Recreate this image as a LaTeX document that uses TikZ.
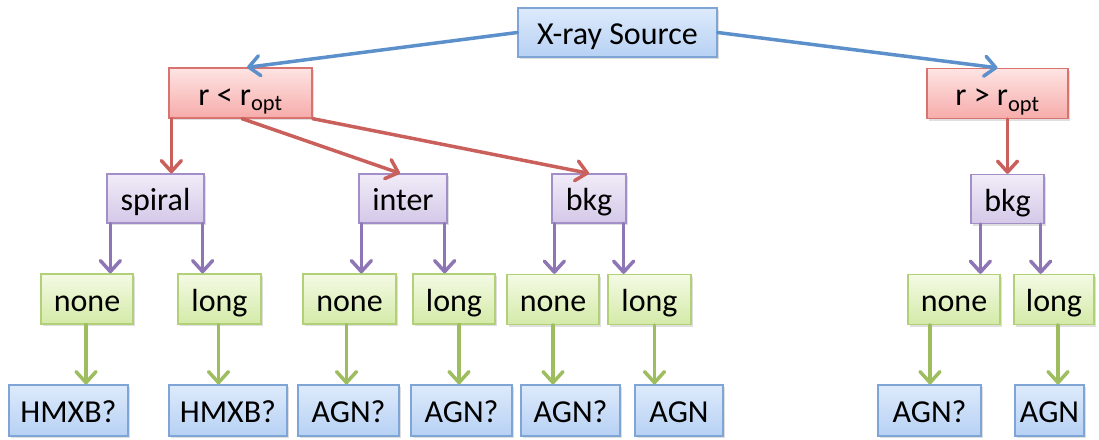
\documentclass[tikz,border=0pt]{standalone}
\usepackage{fontspec}
\setmainfont{Carlito}
\usetikzlibrary{arrows.meta,shadows}

\definecolor{bluefillA}{HTML}{DDEAFB}
\definecolor{bluefillB}{HTML}{B7D1F4}
\definecolor{blueline}{HTML}{7EA5D6}
\definecolor{bluearrow}{HTML}{5C90CB}
\definecolor{redfillA}{HTML}{FDE4E3}
\definecolor{redfillB}{HTML}{F6ACAA}
\definecolor{redline}{HTML}{D8736F}
\definecolor{redarrow}{HTML}{CA605C}
\definecolor{purpfillA}{HTML}{F1ECF8}
\definecolor{purpfillB}{HTML}{D4C8E8}
\definecolor{purpline}{HTML}{A28FC8}
\definecolor{purparrow}{HTML}{8E76B6}
\definecolor{greenfillA}{HTML}{F4FAE4}
\definecolor{greenfillB}{HTML}{D4EAA8}
\definecolor{greenline}{HTML}{B2D078}
\definecolor{greenarrow}{HTML}{9DBD5E}

\tikzset{
  box/.style={rectangle, line width=1.3pt, inner sep=0pt,
    font=\fontsize{32}{36}\selectfont, text height=24pt, text depth=0pt,
    drop shadow={opacity=0.25, shadow xshift=1.5pt, shadow yshift=-2pt}},
  bluebox/.style={box, draw=blueline, top color=bluefillA, bottom color=bluefillB},
  redbox/.style={box, draw=redline, top color=redfillA, bottom color=redfillB},
  purpbox/.style={box, draw=purpline, top color=purpfillA, bottom color=purpfillB},
  greenbox/.style={box, draw=greenline, top color=greenfillA, bottom color=greenfillB},
  conn/.style={line width=3.5pt, line cap=round, line join=round,
    -{Straight Barb[length=11pt, width=20pt, line cap=round, line join=round]}},
  bluearr/.style={conn, draw=bluearrow},
  redarr/.style={conn, draw=redarrow},
  purparr/.style={conn, draw=purparrow},
  greenarr/.style={conn, draw=greenarrow},
}

\begin{document}
\begin{tikzpicture}[x=1pt, y=-1pt]
\useasboundingbox (0,0) rectangle (1099,439);

% root
\node[bluebox, minimum width=199pt, minimum height=49pt] (src) at (617.5,32.5) {X-ray Source};

% radius split
\node[redbox, minimum width=143pt, minimum height=50pt] (rl) at (240.5,93) {r < r\textsubscript{opt}};
\node[redbox, minimum width=141pt, minimum height=50pt] (rg) at (997.5,93.5) {r > r\textsubscript{opt}};

% morphology
\node[purpbox, minimum width=97pt, minimum height=49pt] (spiral) at (155.5,198.5) {spiral};
\node[purpbox, minimum width=88pt, minimum height=49pt] (inter) at (403,198.5) {inter};
\node[purpbox, minimum width=74pt, minimum height=49pt] (bkgA) at (589,198.5) {bkg};
\node[purpbox, minimum width=73pt, minimum height=49pt] (bkgB) at (1007.5,199) {bkg};

% counterpart
\node[greenbox, minimum width=92pt, minimum height=50pt] (nA) at (87,299) {none};
\node[greenbox, minimum width=83pt, minimum height=50pt] (lA) at (219.5,299) {long};
\node[greenbox, minimum width=93pt, minimum height=50pt] (nB) at (349.5,299) {none};
\node[greenbox, minimum width=82pt, minimum height=50pt] (lB) at (454,299) {long};
\node[greenbox, minimum width=92pt, minimum height=50pt] (nC) at (553,299.5) {none};
\node[greenbox, minimum width=83pt, minimum height=50pt] (lC) at (649.5,299.5) {long};
\node[greenbox, minimum width=92pt, minimum height=50pt] (nD) at (954,299.5) {none};
\node[greenbox, minimum width=80pt, minimum height=50pt] (lD) at (1054,299.5) {long};

% classification
\node[bluebox, minimum width=119pt, minimum height=51pt] (hA) at (68.5,410.5) {HMXB?};
\node[bluebox, minimum width=118pt, minimum height=51pt] (hB) at (228,410.5) {HMXB?};
\node[bluebox, minimum width=101pt, minimum height=51pt] (aA) at (348.5,410.5) {AGN?};
\node[bluebox, minimum width=101pt, minimum height=51pt] (aB) at (461.5,410.5) {AGN?};
\node[bluebox, minimum width=99pt, minimum height=51pt] (aC) at (570.5,410.5) {AGN?};
\node[bluebox, minimum width=88pt, minimum height=51pt] (aD) at (679,410.5) {AGN};
\node[bluebox, minimum width=103pt, minimum height=51pt] (aE) at (929.5,410.5) {AGN?};
\node[bluebox, minimum width=69pt, minimum height=51pt] (aF) at (1049.5,410.5) {AGN};

% root connectors
\draw[bluearr] (src.west) -- ([xshift=6.5pt]rl.north);
\draw[bluearr] (src.east) -- (rg.north);

% radius connectors
\draw[redarr] ([xshift=3pt]rl.south west) -- ([xshift=3pt]rl.south west |- spiral.north);
\draw[redarr] ([xshift=1.5pt]rl.south) -- ([xshift=-3pt]inter.north);
\draw[redarr] (rl.south east) -- (bkgA.north);
\draw[redarr] ([xshift=10pt]rg.south) -- ([xshift=10pt]rg.south |- bkgB.north);

% morphology connectors
\draw[purparr] ([xshift=4pt]spiral.south west) -- ([xshift=4pt]spiral.south west |- nA.north);
\draw[purparr] ([xshift=-2pt]spiral.south east) -- ([xshift=-2pt]spiral.south east |- lA.north);
\draw[purparr] ([xshift=3pt]inter.south west) -- ([xshift=3pt]inter.south west |- nB.north);
\draw[purparr] ([xshift=-3pt]inter.south east) -- ([xshift=-3pt]inter.south east |- lB.north);
\draw[purparr] ([xshift=3pt]bkgA.south west) -- ([xshift=3pt]bkgA.south west |- nC.north);
\draw[purparr] ([xshift=-3pt]bkgA.south east) -- ([xshift=-3pt]bkgA.south east |- lC.north);
\draw[purparr] ([xshift=10pt]bkgB.south west) -- ([xshift=10pt]bkgB.south west |- nD.north);
\draw[purparr] ([xshift=-4pt]bkgB.south east) -- ([xshift=-4pt]bkgB.south east |- lD.north);

% counterpart connectors
\draw[greenarr] ([xshift=-1pt]nA.south) -- ([xshift=-1pt]nA.south |- hA.north);
\draw[greenarr] ([xshift=-1pt]lA.south) -- ([xshift=-1pt]lA.south |- hB.north);
\draw[greenarr] ([xshift=-3pt]nB.south) -- ([xshift=-3pt]nB.south |- aA.north);
\draw[greenarr] ([xshift=5pt]lB.south) -- ([xshift=5pt]lB.south |- aB.north);
\draw[greenarr] (nC.south) -- (nC.south |- aC.north);
\draw[greenarr] ([xshift=5pt]lC.south) -- ([xshift=5pt]lC.south |- aD.north);
\draw[greenarr] ([xshift=-24pt]nD.south) -- ([xshift=-24pt]nD.south |- aE.north);
\draw[greenarr] ([xshift=4pt]lD.south) -- ([xshift=4pt]lD.south |- aF.north);
\end{tikzpicture}
\end{document}
